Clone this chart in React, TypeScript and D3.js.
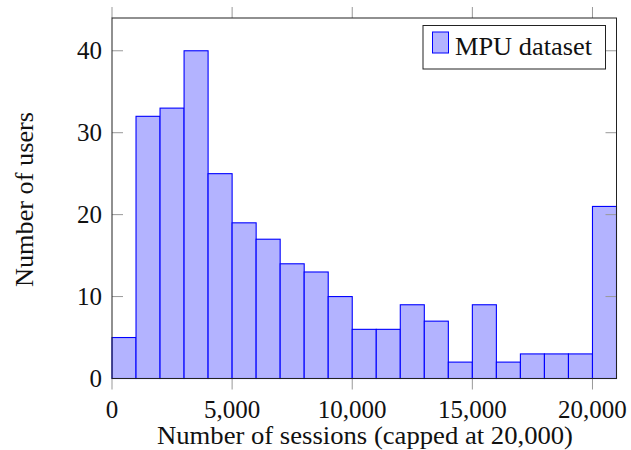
import React from "react";
import * as d3 from "d3";

const binStarts = [0, 1000, 2000, 3000, 4000, 5000, 6000, 7000, 8000, 9000, 10000, 11000, 12000, 13000, 14000, 15000, 16000, 17000, 18000, 19000, 20000];
const counts = [5, 32, 33, 40, 25, 19, 17, 14, 13, 10, 6, 6, 9, 7, 2, 9, 2, 3, 3, 3, 21];
const binWidth = 1000;
const xTicks = [0, 5000, 10000, 15000, 20000];
const yTicks = [0, 10, 20, 30, 40];
const legendLabel = "MPU dataset";
const xLabel = "Number of sessions (capped at 20,000)";
const yLabel = "Number of users";

const W = 631, H = 450;
const L = 112, R = 616.5, T = 18, B = 378.5;
const FONT = "'Liberation Serif', 'DejaVu Serif', serif";
const FS_TICK = 25;
const FS_LABEL = 24.5;

export default function App() {
  const x = d3.scaleLinear().domain([0, 21000]).range([L, R]);
  const y = d3.scaleLinear().domain([0, 44]).range([B, T]);
  const fmt = d3.format(",");
  const tickGrey = "#999";
  return (
    <svg width={W} height={H} style={{ position: "absolute", left: 0, top: 0 }}>
      <rect x={0} y={0} width={W} height={H} fill="white" />
      {binStarts.map((s, i) => (
        <rect key={i} x={x(s)} y={y(counts[i])} width={x(s + binWidth) - x(s)} height={y(0) - y(counts[i])}
          fill="#b3b3ff" stroke="#0000ff" strokeWidth={1.1} />
      ))}
      {xTicks.map((t) => (
        <g key={t}>
          <line x1={x(t)} x2={x(t)} y1={B} y2={B + 11} stroke={tickGrey} strokeWidth={1} />
          <line x1={x(t)} x2={x(t)} y1={T} y2={T - 11} stroke={tickGrey} strokeWidth={1} />
          <text x={x(t)} y={417.5} textAnchor="middle" fontFamily={FONT} fontSize={FS_TICK} fill="#111">{fmt(t)}</text>
        </g>
      ))}
      {yTicks.map((t) => (
        <g key={t}>
          <line x1={L} x2={L + 11} y1={y(t)} y2={y(t)} stroke={tickGrey} strokeWidth={1} />
          <line x1={R} x2={R - 11} y1={y(t)} y2={y(t)} stroke={tickGrey} strokeWidth={1} />
          <text x={102} y={y(t) + 8.3} textAnchor="end" fontFamily={FONT} fontSize={FS_TICK} fill="#111">{t}</text>
        </g>
      ))}
      <rect x={L} y={T} width={R - L} height={B - T} fill="none" stroke="#222" strokeWidth={1} />
      <g>
        <rect x={423} y={25.5} width={182.5} height={43.5} fill="white" stroke="#222" strokeWidth={1} />
        <rect x={432.5} y={32} width={16} height={21} fill="#b3b3ff" stroke="#0000ff" strokeWidth={1} />
        <text x={455} y={55} fontFamily={FONT} fontSize={FS_LABEL} fill="#111" textLength={137} lengthAdjust="spacingAndGlyphs">{legendLabel}</text>
      </g>
      <text x={157} y={444} fontFamily={FONT} fontSize={FS_LABEL} fill="#111" textLength={416} lengthAdjust="spacingAndGlyphs">{xLabel}</text>
      <text transform={`translate(33,287) rotate(-90)`} fontFamily={FONT} fontSize={FS_LABEL} fill="#111" textLength={175} lengthAdjust="spacingAndGlyphs">{yLabel}</text>
    </svg>
  );
}
